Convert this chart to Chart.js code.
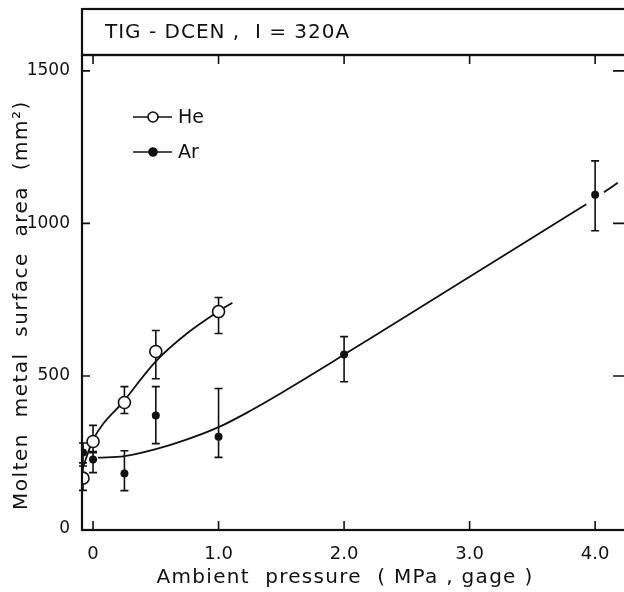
<!DOCTYPE html>
<html>
<head>
<meta charset="utf-8">
<script src="https://cdn.jsdelivr.net/npm/chart.js@4.4.0/dist/chart.umd.min.js"></script>
<style>
  html, body { margin: 0; padding: 0; background: #fff; }
  #wrap { width: 624px; height: 592px; }
</style>
</head>
<body>
<div id="wrap"><canvas id="c"></canvas></div>
<script>
// measured points: ambient pressure (MPa, gage) vs molten area (mm2)
const hePressure = [-0.08, 0, 0.25, 0.5, 1.0];
const heArea     = [165, 285, 413, 580, 711];
const heErrUp    = [205, 338, 465, 649, 757];
const heErrLow   = [125, 248, 377, 491, 639];

const arPressure = [-0.08, 0, 0.25, 0.5, 1.0, 2.0, 4.0];
const arArea     = [249, 226, 180, 370, 301, 570, 1094];
const arErrUp    = [280, 252, 255, 465, 459, 629, 1205];
const arErrLow   = [215, 183, 124, 278, 233, 481, 976];

// hand drawn trend curves
const heCurveX = [-0.085, 0, 0.25, 0.5, 0.75, 1.0, 1.11];
const heCurveY = [195, 290, 420, 548, 640, 712, 740];
const arCurveX = [0.04, 0.25, 0.5, 0.75, 1.0, 1.25, 1.5, 1.75, 2.0, 2.5, 3.0, 3.5, 3.93, 4.0, 4.07, 4.18];
const arCurveY = [232, 237, 260, 292, 332, 385, 444, 506, 570, 697, 825, 953, 1063, null, 1102, 1133];

const xTicks = [0, 1, 2, 3, 4];
const yTicks = [0, 500, 1000, 1500];

const titleText = 'TIG - DCEN ,  I = 320A';
const xTitle = 'Ambient  pressure  ( MPa , gage )';
const yTitle = 'Molten  metal  surface  area  (mm²)';
const FONT = '"DejaVu Sans", sans-serif';
const INK = '#111';

const pts = (xs, ys) => xs.map((x, i) => ({ x: x, y: ys[i] }));

const errorBars = {
  id: 'errorBars',
  beforeDatasetsDraw(chart) {
    const { ctx, scales: { x, y } } = chart;
    ctx.save();
    ctx.strokeStyle = INK;
    ctx.lineWidth = 1.6;
    const draw = (xs, lo, hi) => {
      xs.forEach((v, i) => {
        const px = x.getPixelForValue(v);
        const y1 = y.getPixelForValue(lo[i]);
        const y2 = y.getPixelForValue(hi[i]);
        ctx.beginPath();
        ctx.moveTo(px, y1); ctx.lineTo(px, y2);
        ctx.moveTo(px - 4, y1); ctx.lineTo(px + 4, y1);
        ctx.moveTo(px - 4, y2); ctx.lineTo(px + 4, y2);
        ctx.stroke();
      });
    };
    draw(hePressure, heErrLow, heErrUp);
    draw(arPressure, arErrLow, arErrUp);
    ctx.restore();
  }
};

const frame = {
  id: 'frame',
  afterDraw(chart) {
    const { ctx, chartArea: a, scales: { x, y } } = chart;
    ctx.save();
    ctx.strokeStyle = INK;
    ctx.fillStyle = INK;
    ctx.lineWidth = 2.2;
    ctx.strokeRect(a.left, a.top, a.right - a.left + 4, a.bottom - a.top);
    // title box
    ctx.strokeRect(a.left, 9, a.right - a.left + 4, a.top - 9);
    ctx.font = '20px ' + FONT;
    ctx.textBaseline = 'middle';
    ctx.letterSpacing = '1px';
    ctx.fillText(titleText, 105, 33);
    // axis titles
    ctx.textAlign = 'center';
    ctx.letterSpacing = '1.3px';
    ctx.fillText(xTitle, 345, 578);
    ctx.save();
    ctx.translate(22, 305);
    ctx.rotate(-Math.PI / 2);
    ctx.letterSpacing = '1.5px';
    ctx.fillText(yTitle, 0, 0);
    ctx.restore();
    ctx.letterSpacing = '0px';
    ctx.textAlign = 'left';
    // inward ticks
    ctx.lineWidth = 1.6;
    ctx.beginPath();
    xTicks.forEach(v => {
      const px = x.getPixelForValue(v);
      ctx.moveTo(px, a.bottom); ctx.lineTo(px, a.bottom - 9);
      ctx.moveTo(px, a.top); ctx.lineTo(px, a.top + 9);
    });
    yTicks.forEach(v => {
      if (v === 0) return;
      const py = y.getPixelForValue(v);
      ctx.moveTo(a.left, py); ctx.lineTo(a.left + 8, py);
      ctx.moveTo(a.right, py); ctx.lineTo(a.right - 11, py);
    });
    ctx.stroke();
    // legend
    ctx.font = '19px ' + FONT;
    const rows = [['He', 117, false], ['Ar', 152, true]];
    rows.forEach(([label, ly, filled]) => {
      ctx.beginPath();
      ctx.moveTo(133, ly); ctx.lineTo(172, ly);
      ctx.stroke();
      ctx.beginPath();
      ctx.arc(153, ly, filled ? 4 : 5, 0, Math.PI * 2);
      ctx.fillStyle = filled ? INK : '#fff';
      ctx.fill();
      ctx.stroke();
      ctx.fillStyle = INK;
      ctx.fillText(label, 178, ly + 1);
    });
    ctx.restore();
  }
};

new Chart(document.getElementById('c'), {
  type: 'scatter',
  data: {
    datasets: [
      {
        label: 'He',
        data: pts(hePressure, heArea),
        pointRadius: 6,
        pointBorderWidth: 1.6,
        pointBackgroundColor: '#fff',
        pointBorderColor: INK,
        showLine: false,
        order: 0
      },
      {
        label: 'Ar',
        data: pts(arPressure, arArea),
        pointRadius: 4,
        pointBorderWidth: 0,
        pointBackgroundColor: INK,
        showLine: false,
        order: 0
      },
      {
        label: 'He curve',
        data: pts(heCurveX, heCurveY),
        type: 'line',
        borderColor: INK,
        borderWidth: 1.8,
        pointRadius: 0,
        cubicInterpolationMode: 'monotone',
        order: 1
      },
      {
        label: 'Ar curve',
        data: pts(arCurveX, arCurveY),
        type: 'line',
        borderColor: INK,
        borderWidth: 1.8,
        pointRadius: 0,
        spanGaps: false,
        cubicInterpolationMode: 'monotone',
        order: 1
      }
    ]
  },
  options: {
    responsive: true,
    maintainAspectRatio: false,
    animation: false,
    layout: { autoPadding: false, padding: { top: 55, left: 0, right: 0, bottom: 0 } },
    plugins: { legend: { display: false }, tooltip: { enabled: false } },
    scales: {
      x: {
        type: 'linear',
        min: -0.088,
        max: 4.23,
        afterBuildTicks: s => { s.ticks = xTicks.map(v => ({ value: v })); },
        afterFit: s => { s.height = 62; s.paddingLeft = 0; s.paddingRight = 0; },
        grid: { display: false },
        border: { display: false },
        ticks: {
          color: INK,
          font: { family: FONT, size: 18 },
          padding: 6,
          maxRotation: 0,
          callback: v => v === 0 ? '0' : v.toFixed(1)
        },
        title: { display: false }
      },
      y: {
        type: 'linear',
        min: -5,
        max: 1552,
        afterBuildTicks: s => { s.ticks = yTicks.map(v => ({ value: v })); },
        afterFit: s => { s.width = 82; s.paddingTop = 0; s.paddingBottom = 0; },
        grid: { display: false },
        border: { display: false },
        ticks: {
          color: INK,
          font: { family: FONT, size: 17 },
          padding: 4,
          callback: v => String(v)
        },
        title: { display: false }
      }
    }
  },
  plugins: [errorBars, frame]
});
</script>
</body>
</html>
